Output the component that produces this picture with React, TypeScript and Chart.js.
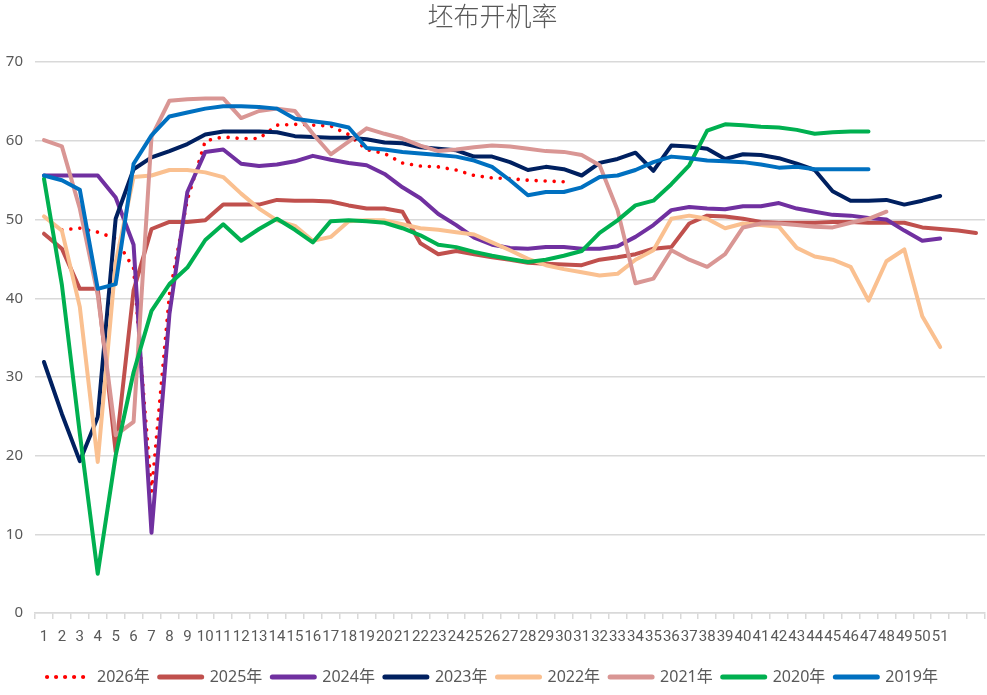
import React, { useEffect, useRef } from "react";
import { Chart, registerables } from "chart.js";

Chart.register(...registerables);

// week numbers on the x axis (the sheet has 53 rows, only 1-51 are labelled)
const weeks = [
  "1", "2", "3", "4", "5", "6", "7", "8", "9", "10",
  "11", "12", "13", "14", "15", "16", "17", "18", "19", "20",
  "21", "22", "23", "24", "25", "26", "27", "28", "29", "30",
  "31", "32", "33", "34", "35", "36", "37", "38", "39", "40",
  "41", "42", "43", "44", "45", "46", "47", "48", "49", "50",
  "51", "", "",
];

const yTicks = [0, 10, 20, 30, 40, 50, 60, 70];

const v2026 = [
  null, 48.7, 48.9, 48.4, 47.6, 43.8, 15.4, 40.5, 52.5, 60.0,
  60.5, 60.3, 60.3, 62.0, 62.1, 62.0, 61.9, 60.8, 58.9, 58.4,
  57.2, 56.8, 56.7, 56.3, 55.6, 55.3, 55.2, 55.0, 54.9, 54.8,
];

const v2025 = [
  48.2, 46.3, 41.2, 41.2, 20.5, 41.0, 48.8, 49.7, 49.7, 49.9,
  51.9, 51.9, 51.9, 52.5, 52.4, 52.4, 52.3, 51.8, 51.4, 51.4,
  51.0, 47.0, 45.6, 46.0, 45.6, 45.2, 44.9, 44.5, 44.4, 44.3,
  44.2, 44.9, 45.2, 45.6, 46.3, 46.5, 49.5, 50.5, 50.4, 50.1,
  49.7, 49.6, 49.6, 49.6, 49.7, 49.7, 49.6, 49.6, 49.6, 49.0,
  48.8, 48.6, 48.3,
];

const v2024 = [
  55.6, 55.6, 55.6, 55.6, 52.8, 46.8, 10.2, 38.0, 53.5, 58.6,
  58.9, 57.1, 56.8, 57.0, 57.4, 58.1, 57.6, 57.2, 56.9, 55.8,
  54.1, 52.7, 50.7, 49.3, 47.7, 46.8, 46.4, 46.3, 46.5, 46.5,
  46.3, 46.3, 46.6, 47.8, 49.3, 51.2, 51.6, 51.4, 51.3, 51.7,
  51.7, 52.1, 51.4, 51.0, 50.6, 50.5, 50.2, 50.0, 48.6, 47.3,
  47.6,
];

const v2023 = [
  31.9, 25.3, 19.3, 24.9, 50.1, 56.4, 57.9, 58.7, 59.6, 60.8,
  61.2, 61.2, 61.2, 61.1, 60.6, 60.5, 60.4, 60.4, 60.2, 59.8,
  59.7, 59.2, 59.0, 58.8, 58.0, 58.0, 57.3, 56.3, 56.7, 56.4,
  55.6, 57.2, 57.7, 58.5, 56.2, 59.4, 59.3, 59.0, 57.7, 58.3,
  58.2, 57.8, 57.1, 56.3, 53.6, 52.4, 52.4, 52.5, 51.9, 52.4,
  53.0,
];

const v2022 = [
  50.4, 48.6, 38.9, 19.2, 44.5, 55.4, 55.6, 56.3, 56.3, 56.0,
  55.4, 53.3, 51.4, 49.9, 49.2, 47.3, 47.8, 49.8, 49.9, 49.9,
  49.4, 48.9, 48.7, 48.4, 48.1, 47.1, 46.1, 45.0, 44.2, 43.7,
  43.3, 42.9, 43.1, 44.9, 46.1, 50.1, 50.5, 50.1, 48.9, 49.5,
  49.3, 49.1, 46.4, 45.3, 44.9, 44.0, 39.7, 44.7, 46.2, 37.7,
  33.8,
];

const v2021 = [
  60.1, 59.3, 51.4, 40.4, 22.6, 24.3, 60.5, 65.1, 65.3, 65.4,
  65.4, 62.9, 63.8, 64.1, 63.8, 60.9, 58.3, 59.9, 61.6, 60.9,
  60.3, 59.4, 58.7, 58.9, 59.2, 59.4, 59.3, 59.0, 58.7, 58.6,
  58.2, 56.9, 51.2, 41.9, 42.5, 46.1, 44.9, 44.0, 45.6, 49.0,
  49.5, 49.5, 49.3, 49.1, 49.0, 49.6, 50.1, 51.0,
];

const v2020 = [
  55.2, 41.7, 22.8, 5.0, 20.0, 30.6, 38.4, 41.8, 43.9, 47.4,
  49.4, 47.3, 48.8, 50.1, 48.7, 47.1, 49.8, 49.9, 49.8, 49.6,
  48.9, 48.0, 46.8, 46.5, 45.9, 45.4, 45.0, 44.6, 44.9, 45.4,
  46.0, 48.3, 49.9, 51.8, 52.4, 54.5, 56.9, 61.3, 62.1, 62.0,
  61.8, 61.7, 61.4, 60.9, 61.1, 61.2, 61.2,
];

const v2019 = [
  55.6, 55.0, 53.8, 41.2, 41.8, 57.1, 60.7, 63.1, 63.6, 64.1,
  64.4, 64.4, 64.3, 64.1, 62.8, 62.5, 62.2, 61.7, 59.1, 58.9,
  58.6, 58.4, 58.2, 58.0, 57.5, 56.7, 55.0, 53.1, 53.5, 53.5,
  54.1, 55.4, 55.6, 56.3, 57.3, 58.0, 57.8, 57.5, 57.4, 57.3,
  57.0, 56.6, 56.7, 56.4, 56.4, 56.4, 56.4,
];

const GREY = "#595959";
const GRID = "#D9D9D9";

const App = () => {
  const canvasRef = useRef<HTMLCanvasElement | null>(null);

  useEffect(() => {
    if (!canvasRef.current) return;
    const ctx = canvasRef.current.getContext("2d");
    if (!ctx) return;

    // order: lower number is drawn on top, so 2019 ends up uppermost like the sheet
    const line = (label: string, data: (number | null)[], color: string, order: number, dotted = false) => ({
      label,
      data,
      borderColor: color,
      backgroundColor: color,
      borderWidth: dotted ? 3.6 : 4,
      borderDash: dotted ? [0.01, 9] : [],
      borderCapStyle: "round" as const,
      borderJoinStyle: "round" as const,
      pointRadius: 0,
      pointHoverRadius: 0,
      pointStyle: "line" as const,
      tension: 0,
      fill: false,
      order,
    });

    const chart = new Chart(ctx, {
      type: "line",
      data: {
        labels: weeks,
        datasets: [
          line("2026年", v2026, "#FF0000", 7, true),
          line("2025年", v2025, "#C0504D", 6),
          line("2024年", v2024, "#7030A0", 5),
          line("2023年", v2023, "#002060", 4),
          line("2022年", v2022, "#FAC090", 3),
          line("2021年", v2021, "#D99694", 2),
          line("2020年", v2020, "#00B050", 1),
          line("2019年", v2019, "#0070C0", 0),
        ],
      },
      options: {
        animation: false,
        responsive: true,
        maintainAspectRatio: false,
        events: [],
        layout: { padding: { left: 0, right: 2, top: 0, bottom: 0 } },
        plugins: {
          tooltip: { enabled: false },
          title: {
            display: true,
            text: "坯布开机率",
            color: GREY,
            font: { family: '"Noto Sans CJK SC", sans-serif', size: 26, weight: "300" as any },
            padding: { top: 1, bottom: 30 },
          },
          legend: {
            position: "bottom",
            labels: {
              usePointStyle: true,
              pointStyleWidth: 42,
              padding: 10,
              color: GREY,
              font: { family: '"Noto Sans", "Noto Sans CJK SC", sans-serif', size: 16 },
              generateLabels: (c: Chart) => {
                const items = Chart.defaults.plugins.legend.labels.generateLabels(c);
                return items.map((it: any) => {
                  const ds: any = c.data.datasets[it.datasetIndex];
                  const dash = ds.borderDash || [];
                  return {
                    ...it,
                    strokeStyle: ds.borderColor,
                    lineDash: dash,
                    lineCap: "round",
                    lineWidth: dash.length ? 4.2 : 5,
                  };
                });
              },
              sort: (a: any, b: any) => a.datasetIndex - b.datasetIndex,
            },
          },
        },
        scales: {
          x: {
            offset: true,
            grid: {
              display: true,
              drawOnChartArea: false,
              drawTicks: true,
              tickLength: 6,
              offset: true,
              color: GRID,
              lineWidth: 1.5,
            },
            border: { display: true, color: GRID, width: 1.5 },
            ticks: {
              autoSkip: false,
              maxRotation: 0,
              minRotation: 0,
              padding: 9,
              color: GREY,
              font: { family: '"Liberation Sans Narrow", "Roboto", sans-serif', size: 15 },
            },
            afterFit: (s: any) => {
              s.height = 46;
            },
          },
          y: {
            min: 0,
            max: 70,
            afterBuildTicks: (s: any) => {
              s.ticks = yTicks.map((v) => ({ value: v }));
            },
            grid: { color: GRID, lineWidth: 1.5, drawTicks: false },
            border: { display: false },
            ticks: {
              padding: 12,
              color: GREY,
              font: { family: '"Noto Sans", sans-serif', size: 15 },
            },
            afterFit: (s: any) => {
              s.width = 35;
            },
          },
        },
      },
    });

    return () => {
      chart.destroy();
    };
  }, []);

  return (
    <div style={{ position: "fixed", left: 0, top: 0, width: 987, height: 695, background: "#fff" }}>
      <canvas ref={canvasRef} />
    </div>
  );
};

export default App;
